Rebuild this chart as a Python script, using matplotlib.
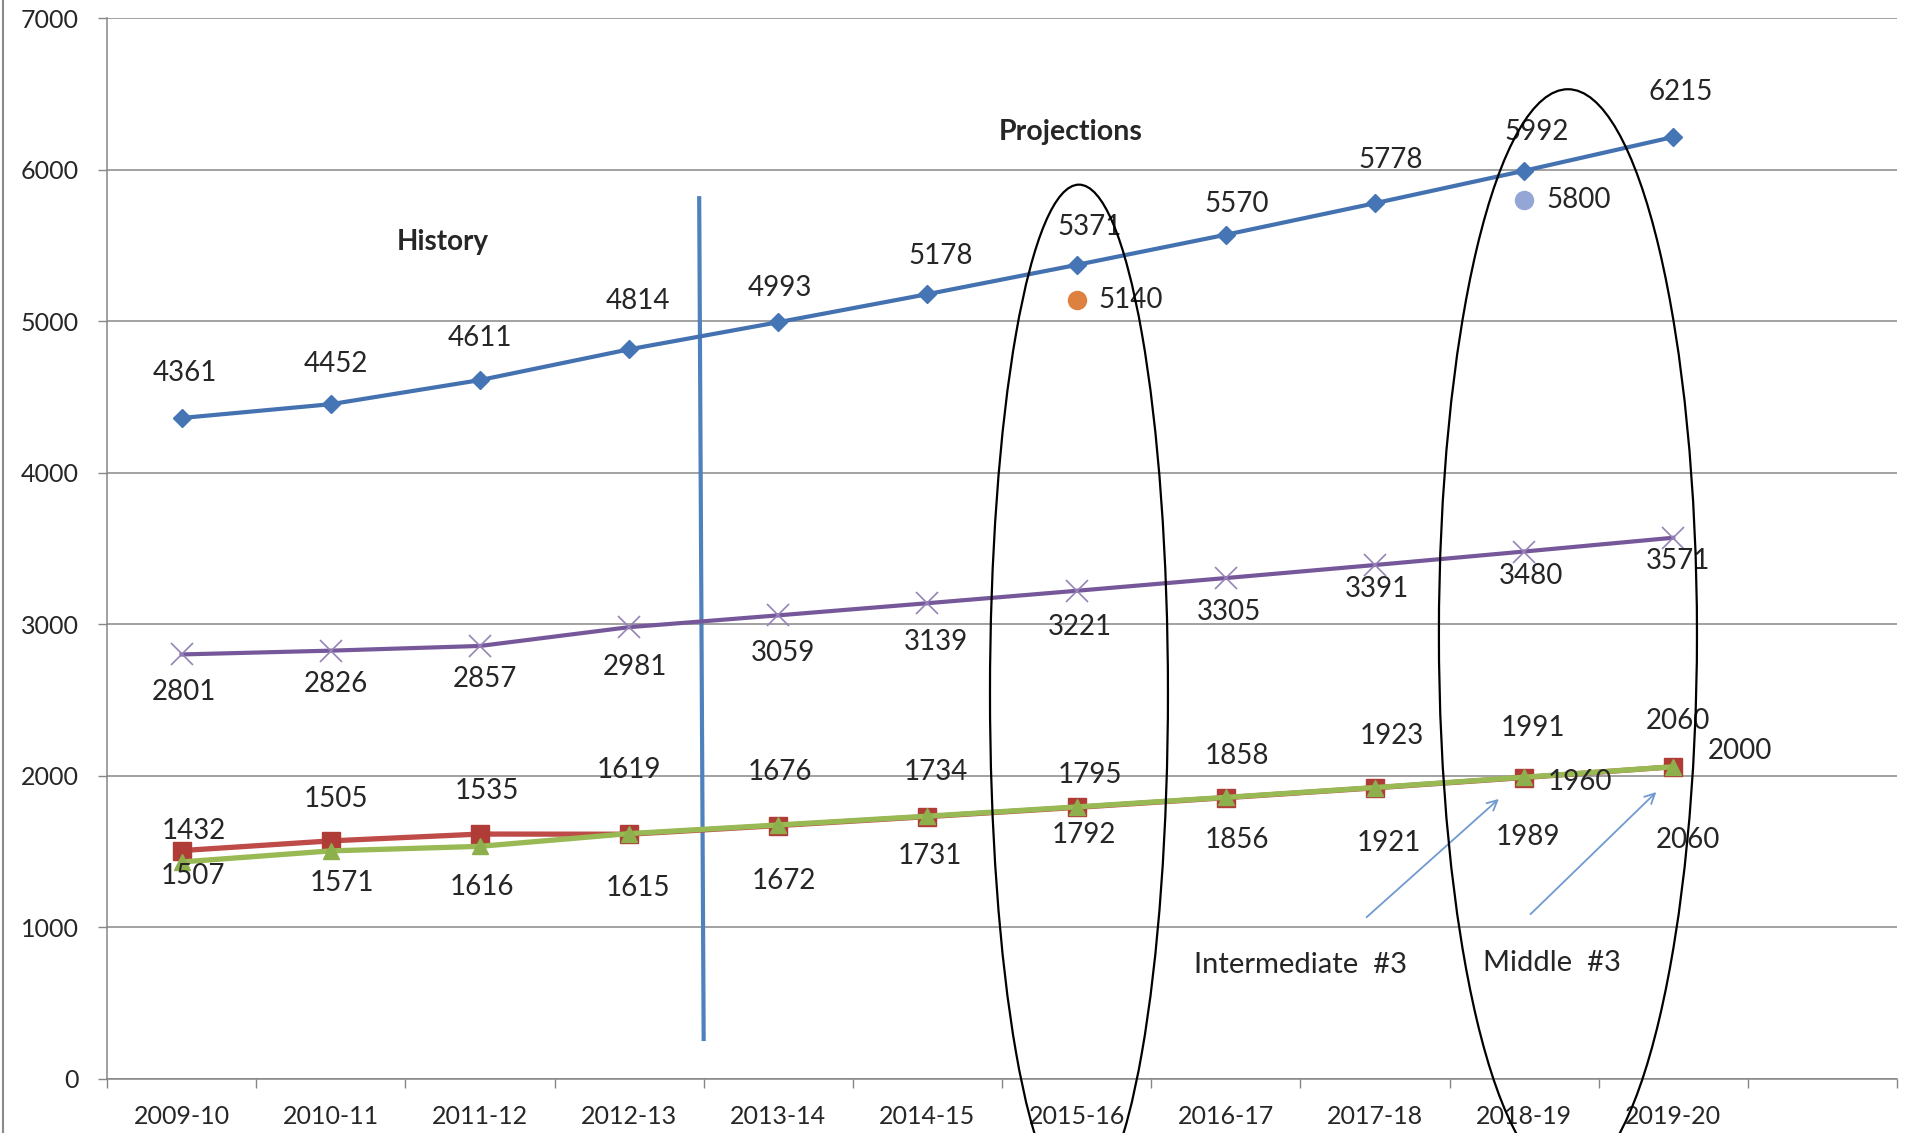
import numpy as np
import matplotlib
matplotlib.use("Agg")
import matplotlib.pyplot as plt
from matplotlib.patches import Ellipse
from matplotlib.lines import Line2D

plt.rcParams['font.family'] = ['Lato', 'DejaVu Sans']

# ---------------- data ----------------
years = ["2009-10", "2010-11", "2011-12", "2012-13", "2013-14", "2014-15",
         "2015-16", "2016-17", "2017-18", "2018-19", "2019-20"]
total = [4361, 4452, 4611, 4814, 4993, 5178, 5371, 5570, 5778, 5992, 6215]
second = [2801, 2826, 2857, 2981, 3059, 3139, 3221, 3305, 3391, 3480, 3571]
red_series = [1507, 1571, 1616, 1615, 1672, 1731, 1792, 1856, 1921, 1989, 2060]
green_series = [1432, 1505, 1535, 1619, 1676, 1734, 1795, 1858, 1923, 1991, 2060]
extra_orange = ("2015-16", 5140)
extra_lightblue = ("2018-19", 5800)
note_1960 = ("2018-19", 1960)
note_2000 = ("2019-20", 2000)
y_ticks = [0, 1000, 2000, 3000, 4000, 5000, 6000, 7000]

# label offsets (points) - styling only
blue_dx = [2.6, 3.5, 0, 6.2, 0.9, 9.7, 9.7, 7.9, 11.4, 8.8, 5.3]
blue_dy = [32.6, 29, 30, 35, 24.6, 27.3, 27.3, 22, 30.8, 28, 32.6]
purp_dx = [1.8, 3.5, 3.5, 4.4, 3.5, 6.2, 2.6, 2.6, 1.8, 5.3, 3.5]
purp_dy = [-27.3, -23.8, -23.8, -29, -27.3, -28.2, -26.4, -24.6, -17.6, -17.6, -16.7]
red_dx = [7.9, 7.9, 1.8, 6.2, 4.4, 1.8, 5.3, 7.9, 9.7, 2.6, 10.6]
red_dy = [-18.5, -30, -37.8, -38.7, -39.6, -28.2, -20.2, -30.8, -39.6, -43.1, -52.8]
green_dx = [8.8, 3.5, 5.3, 0, 0.9, 6.2, 9.7, 7.9, 12.3, 6.2, 3.5]
green_dy = [22, 37, 39.6, 45.8, 37.8, 31.7, 22.9, 29.9, 37, 35.2, 32.6]

W, H = 1917, 1133
fig = plt.figure(figsize=(W / 100, H / 100), dpi=100)
ax = fig.add_axes([107 / W, 1 - 1079 / H, (1897 - 107) / W, (1079 - 18) / H])

x = np.arange(len(years))
ax.set_xlim(-0.5, 11.5)
ax.set_ylim(0, 7000)

TXT = '#262626'
FS = 18      # tick labels
LFS = 20     # data labels
AFS = 21     # annotation texts

ax.plot(x, total, color='#4472B0', lw=3, marker='D', ms=9.5,
        mfc='#4575B4', mec='#4575B4', zorder=5)
ax.plot(x, second, color='#76589A', lw=3, marker='x', ms=16, mew=1.2,
        mec='#9684B8', zorder=5)
ax.plot(x, red_series, color='#BE4B48', lw=3.8, marker='s', ms=13,
        mfc='#B03C38', mec='#B03C38', zorder=5)
ax.plot(x, green_series, color='#98B954', lw=3.8, marker='^', ms=11,
        mfc='#8DB04C', mec='#8DB04C', zorder=6)

def labels(vals, dxs, dys):
    for i, v in enumerate(vals):
        ax.annotate(str(v), (x[i], v), xytext=(dxs[i], dys[i]),
                    textcoords='offset points', ha='center', va='center',
                    fontsize=LFS, color=TXT, zorder=7)

labels(total, blue_dx, blue_dy)
labels(second, purp_dx, purp_dy)
labels(red_series, red_dx, red_dy)
labels(green_series, green_dx, green_dy)

# extra points
xi = years.index(extra_orange[0])
ax.plot([xi], [extra_orange[1]], 'o', ms=13, color='#DD8040', zorder=6)
ax.annotate(str(extra_orange[1]), (xi, extra_orange[1]), xytext=(16, 0),
            textcoords='offset points', ha='left', va='center',
            fontsize=LFS, color=TXT)
xi = years.index(extra_lightblue[0])
ax.plot([xi], [extra_lightblue[1]], 'o', ms=13, color='#93A6D6', zorder=6)
ax.annotate(str(extra_lightblue[1]), (xi, extra_lightblue[1]), xytext=(16, 0),
            textcoords='offset points', ha='left', va='center',
            fontsize=LFS, color=TXT)

xi = years.index(note_1960[0])
ax.annotate(str(note_1960[1]), (xi, note_1960[1]), xytext=(17, 0),
            textcoords='offset points', ha='left', va='center',
            fontsize=LFS, color=TXT, zorder=7)
xi = years.index(note_2000[0])
ax.annotate(str(note_2000[1]), (xi, note_2000[1]), xytext=(25, 18),
            textcoords='offset points', ha='left', va='center',
            fontsize=LFS, color=TXT, zorder=7)

# section texts
ax.text(1.75, 5521, "History", fontsize=20, fontweight='bold', color=TXT,
        ha='center', va='center')
ax.text(5.96, 6247, "Projections", fontsize=20.5, fontweight='bold', color=TXT,
        ha='center', va='center')

# divider line
ax.plot([3.47, 3.50], [5811, 264], color='#4F81BD', lw=3, zorder=4)

# arrows
arrow_kw = dict(arrowstyle='->', color='#6F9AD0', lw=1.3, mutation_scale=18)
ax.annotate('', xy=(8.845, 1860), xytext=(7.93, 1055), arrowprops=arrow_kw)
ax.annotate('', xy=(9.90, 1906), xytext=(9.03, 1075), arrowprops=arrow_kw)
ax.text(7.5, 752, "Intermediate  #3", fontsize=AFS, color=TXT, ha='center', va='center')
ax.text(9.19, 765, "Middle  #3", fontsize=AFS, color=TXT, ha='center', va='center')

# ellipses
for (cx, cy, w, h) in [(6.016, 2546, 1.193, 6709), (9.294, 2935, 1.73, 7190)]:
    e = Ellipse((cx, cy), w, h, fill=False, ec='black', lw=1.6, clip_on=False, zorder=8)
    ax.add_patch(e)

# axes styling
ax.set_yticks(y_ticks)
ax.set_yticklabels([str(t) for t in y_ticks], fontsize=FS, color=TXT)
ax.tick_params(axis='y', length=6.5, width=1, color='#868686', pad=14)
ax.set_xticks(np.arange(-0.5, 12, 1))
ax.set_xticklabels([])
ax.tick_params(axis='x', which='major', length=6.5, width=1, color='#868686')
ax.set_xticks(x, minor=True)
ax.set_xticklabels(years, minor=True, fontsize=FS, color=TXT)
ax.tick_params(axis='x', which='minor', length=0, pad=18.5)

ax.grid(axis='y', color='#888888', lw=1.1)
ax.set_axisbelow(True)
for s in ['top', 'right']:
    ax.spines[s].set_visible(False)
for s in ['left', 'bottom']:
    ax.spines[s].set_color('#868686')
    ax.spines[s].set_linewidth(1.1)

fig.add_artist(Line2D([0.0015, 0.0015], [0, 1], color='#8a8a8a', lw=1.5))

fig.savefig("out.png", dpi=100)
